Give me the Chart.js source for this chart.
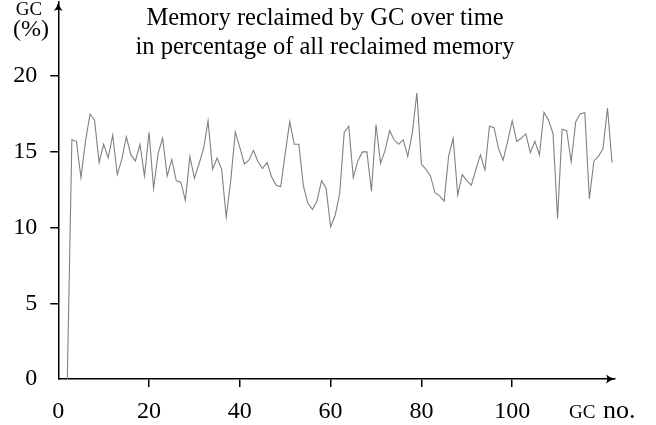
<!DOCTYPE html>
<html>
<head>
<meta charset="utf-8">
<script src="https://cdn.jsdelivr.net/npm/chart.js@4"></script>
<style>
  html, body { margin: 0; padding: 0; background: #fff; }
</style>
</head>
<body>
<canvas id="chart" width="656" height="425"></canvas>
<script>
// GC share of reclaimed memory (%), one value per GC, starting at GC no. 2
const firstGc = 2;
const reclaimed = [
  0, 15.8, 15.7, 13.3, 15.7, 17.5, 17.1, 14.3, 15.5, 14.6, 16.1,
  13.5, 14.5, 16.0, 14.8, 14.4, 15.5, 13.4, 16.3, 12.6, 14.9,
  15.9, 13.4, 14.5, 13.1, 13.0, 11.8, 14.7, 13.25, 14.2, 15.2,
  17.05, 13.85, 14.6, 13.85, 10.7, 13.1, 16.3, 15.3, 14.2, 14.45,
  15.1, 14.35, 13.9, 14.3, 13.35, 12.8, 12.7, 14.9, 17.0, 15.5,
  15.5, 12.75, 11.6, 11.2, 11.75, 13.1, 12.6, 10.05, 10.8, 12.25,
  16.3, 16.7, 13.3, 14.4, 15.0, 15.0, 12.4, 16.8, 14.25, 15.1,
  16.4, 15.8, 15.5, 15.8, 14.7, 16.25, 18.9, 14.2, 13.85, 13.4,
  12.3, 12.1, 11.75, 14.7, 15.9, 12.15, 13.5, 13.1, 12.8, 13.85,
  14.8, 13.8, 16.7, 16.6, 15.2, 14.45, 15.7, 17.05, 15.7, 15.9,
  16.2, 14.95, 15.7, 14.8, 17.6, 17.1, 16.2, 10.6, 16.5, 16.4,
  14.35, 17.0, 17.5, 17.6, 11.9, 14.4, 14.7, 15.2, 17.9, 14.3
];
const xTicks = [0, 20, 40, 60, 80, 100];
const yTicks = [0, 5, 10, 15, 20];
const titleLines = ['Memory reclaimed by GC over time', 'in percentage of all reclaimed memory'];

const FONT = '"Liberation Serif", "Times New Roman", serif';

// axis arrows, title and axis captions
const decorations = {
  id: 'decorations',
  afterDraw(chart) {
    const { ctx, chartArea: a } = chart;
    ctx.save();
    ctx.fillStyle = '#000';

    // arrow heads
    const head = (x, y, angle) => {
      ctx.save();
      ctx.translate(x, y);
      ctx.rotate(angle);
      ctx.beginPath();
      ctx.moveTo(0, 0);
      ctx.quadraticCurveTo(-5, -1, -9, -4.5);
      ctx.quadraticCurveTo(-6.5, 0, -9, 4.5);
      ctx.quadraticCurveTo(-5, 1, 0, 0);
      ctx.fill();
      ctx.restore();
    };
    head(a.right, a.bottom, 0);
    head(a.left, a.top, -Math.PI / 2);

    // title
    ctx.font = '24.5px ' + FONT;
    ctx.textAlign = 'center';
    ctx.textBaseline = 'alphabetic';
    ctx.fillText(titleLines[0], 325, 25);
    ctx.fillText(titleLines[1], 325, 54);

    // y caption
    ctx.font = '19px ' + FONT;
    ctx.fillText('GC', 29, 15);
    ctx.font = '24px ' + FONT;
    ctx.fillText('(%)', 31, 36);

    // x caption
    ctx.textAlign = 'left';
    ctx.font = '19px ' + FONT;
    ctx.fillText('GC', 569, 418);
    ctx.font = '26px ' + FONT;
    ctx.fillText('no.', 603, 418);
    ctx.restore();
  }
};

const tickColor = c => (c.tick && c.tick.value === 0 ? 'rgba(0,0,0,0)' : '#000');
const noPad = s => { s.paddingTop = 0; s.paddingBottom = 0; s.paddingLeft = 0; s.paddingRight = 0; };

new Chart(document.getElementById('chart'), {
  type: 'line',
  data: {
    datasets: [{
      data: reclaimed.map((v, i) => ({ x: firstGc + i, y: v })),
      borderColor: '#808080',
      borderWidth: 1.1,
      pointRadius: 0,
      tension: 0,
      fill: false
    }]
  },
  options: {
    responsive: false,
    animation: false,
    layout: { padding: { top: 2, right: 41, left: 0, bottom: 0 } },
    plugins: { legend: { display: false }, tooltip: { enabled: false } },
    scales: {
      x: {
        type: 'linear',
        min: 0,
        max: 122.65,
        afterBuildTicks: s => { s.ticks = xTicks.map(v => ({ value: v })); },
        afterFit: s => { s.height = 46; noPad(s); },
        border: { color: '#000', width: 1.5 },
        grid: { drawOnChartArea: false, drawTicks: true, tickLength: 8, color: tickColor, lineWidth: 1.5 },
        ticks: { color: '#000', font: { family: FONT, size: 24 }, padding: 10, maxRotation: 0 }
      },
      y: {
        min: 0,
        max: 24.9,
        afterBuildTicks: s => { s.ticks = yTicks.map(v => ({ value: v })); },
        afterFit: s => { s.width = 58.25; noPad(s); },
        border: { color: '#000', width: 1.5 },
        grid: { drawOnChartArea: false, drawTicks: true, tickLength: 8, color: tickColor, lineWidth: 1.5 },
        ticks: { color: '#000', font: { family: FONT, size: 24 }, padding: 13 }
      }
    }
  },
  plugins: [decorations]
});
</script>
</body>
</html>
